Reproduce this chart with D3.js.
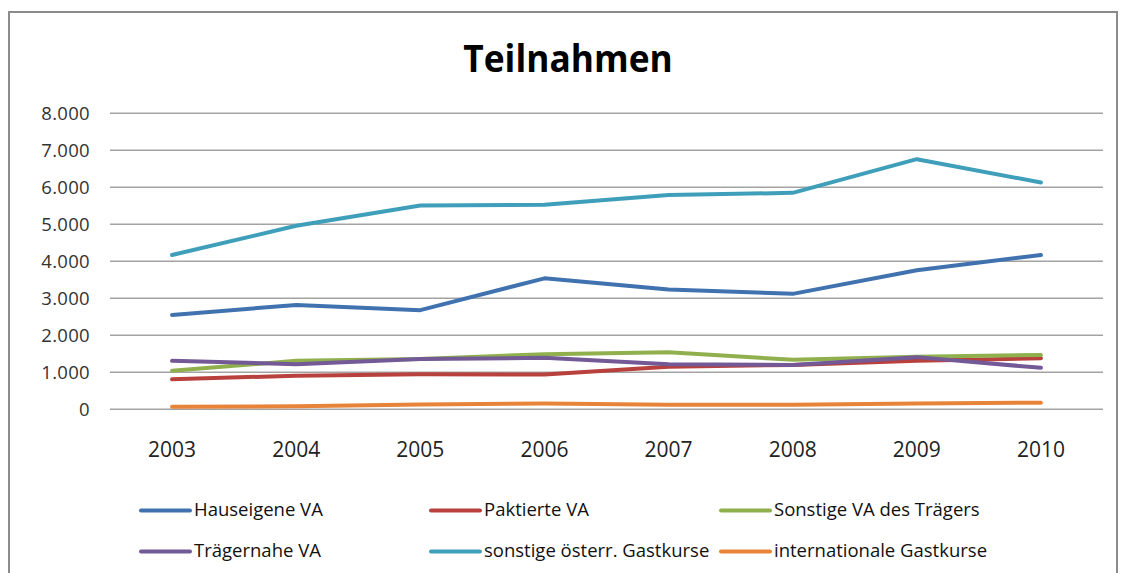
<!DOCTYPE html>
<html><head><meta charset="utf-8">
<script src="https://cdn.jsdelivr.net/npm/d3@7"></script>
<style>html,body{margin:0;padding:0;background:#fff;}svg{display:block;}</style>
</head><body>
<svg id="c" width="1121" height="573"></svg>
<script>
const years = ["2003","2004","2005","2006","2007","2008","2009","2010"];
const seriesNames = ["Hauseigene VA","Paktierte VA","Sonstige VA des Trägers","Trägernahe VA","sonstige österr. Gastkurse","internationale Gastkurse"];
const hauseigene = [2550,2820,2680,3540,3240,3120,3760,4170];
const paktierte = [810,910,950,940,1150,1200,1310,1380];
const sonstigeTraeger = [1040,1310,1360,1490,1540,1340,1420,1470];
const traegernahe = [1310,1220,1360,1390,1220,1200,1410,1120];
const oesterrGast = [4170,4960,5510,5530,5790,5850,6760,6130];
const internationalGast = [70,80,130,160,120,120,160,180];
const yTicks = [0,1000,2000,3000,4000,5000,6000,7000,8000];
const colors = ["#3f72af","#b8403d","#8fb04d","#735996","#3f9fba","#e8843a"];
const allSeries = [hauseigene,paktierte,sonstigeTraeger,traegernahe,oesterrGast,internationalGast];

const svg = d3.select("#c");
const font = "'Open Sans',sans-serif";
svg.append("path").attr("d","M9,573 L9,12 L1117,12 L1117,573")
  .attr("fill","none").attr("stroke","#8c8c8c").attr("stroke-width",2);

svg.append("text").attr("transform","translate(568,72) scale(0.93,1)").attr("text-anchor","middle")
  .attr("font-family",font).attr("font-weight","bold").attr("font-size",38)
  .attr("fill","#000").text("Teilnahmen");

const x = d3.scaleBand().domain(years).range([110,1103]);
const y = d3.scaleLinear().domain([0,8000]).range([409.3,113.3]);
const loc = d3.formatLocale({decimal:",",thousands:".",grouping:[3],currency:["","€"]});
const fmt = loc.format(",d");

svg.append("g").selectAll("line").data(yTicks).join("line")
  .attr("x1",110).attr("x2",1103).attr("y1",d=>y(d)).attr("y2",d=>y(d))
  .attr("stroke","#a3a3a3").attr("stroke-width",1.4);

svg.append("g").selectAll("text").data(yTicks).join("text")
  .attr("x",90).attr("y",d=>y(d)).attr("dy","0.36em").attr("text-anchor","end")
  .attr("font-family",font).attr("font-size",18.5).attr("letter-spacing",0.3)
  .attr("fill","#333").text(d=>fmt(d));

svg.append("g").selectAll("text").data(years).join("text")
  .attr("x",d=>x(d)+x.bandwidth()/2).attr("y",457).attr("text-anchor","middle")
  .attr("font-family",font).attr("font-size",21).attr("fill","#222").text(d=>d);

const line = d3.line().x((d,i)=>x(years[i])+x.bandwidth()/2).y(d=>y(d));
svg.append("g").selectAll("path").data(allSeries).join("path")
  .attr("d",d=>line(d)).attr("fill","none")
  .attr("stroke",(d,i)=>colors[i]).attr("stroke-width",4)
  .attr("stroke-linejoin","round").attr("stroke-linecap","round");

const lg = svg.append("g");
const lx = [141,431,721], ly=[510.5,551.5];
seriesNames.forEach((n,i)=>{
  const cx = lx[i%3], cy = ly[Math.floor(i/3)];
  lg.append("line").attr("x1",cx).attr("x2",cx+49).attr("y1",cy).attr("y2",cy)
    .attr("stroke",colors[i]).attr("stroke-width",4).attr("stroke-linecap","round");
  lg.append("text").attr("x",cx+53).attr("y",cy+5.5)
    .attr("font-family",font).attr("font-size",18.5).attr("fill","#111").text(n);
});
</script>
</body></html>
